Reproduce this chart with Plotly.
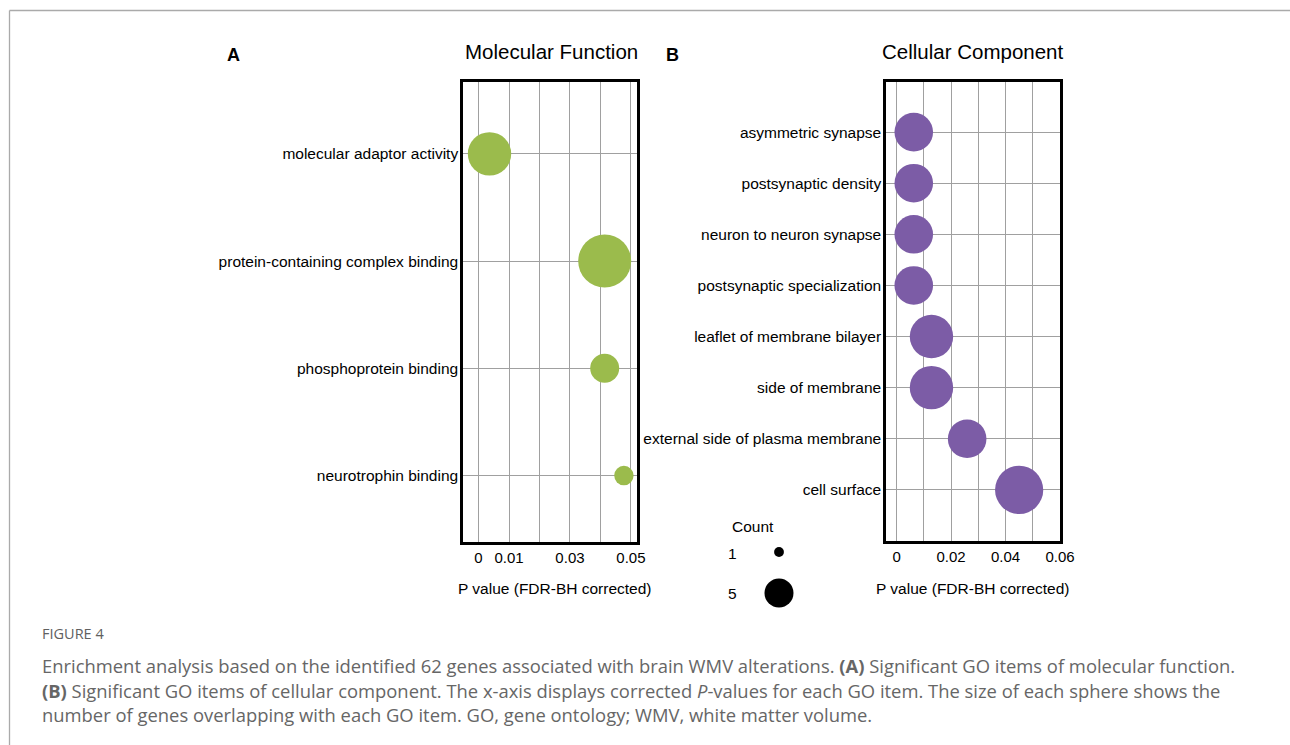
import plotly.graph_objects as go

# GO enrichment results
mf_terms = ["molecular adaptor activity", "protein-containing complex binding",
            "phosphoprotein binding", "neurotrophin binding"]
mf_p = [0.0036, 0.0414, 0.0414, 0.0477]
mf_count = [8, 10, 5, 3]

cc_terms = ["asymmetric synapse", "postsynaptic density", "neuron to neuron synapse",
            "postsynaptic specialization", "leaflet of membrane bilayer", "side of membrane",
            "external side of plasma membrane", "cell surface"]
cc_p = [0.0063, 0.0063, 0.0063, 0.0063, 0.0128, 0.0128, 0.0259, 0.0450]
cc_count = [7, 7, 7, 7, 8, 8, 7, 9]

legend_counts = [1, 5]

mf_ticks = [0, 0.01, 0.02, 0.03, 0.04, 0.05]
mf_ticktext = ["0", "0.01", "", "0.03", "", "0.05"]
cc_ticks = [0, 0.01, 0.02, 0.03, 0.04, 0.05, 0.06]
cc_ticktext = ["0", "", "0.02", "", "0.04", "", "0.06"]

W, H = 1290, 745
GREEN = "#9bbb4c"
PURPLE = "#7c5ca6"
FONT = "Liberation Sans, Arial, sans-serif"
CAP_FONT = "Open Sans, sans-serif"


def px_x(x):
    return x / W


def px_y(y):
    return 1 - y / H


def diam(c):
    # bubble diameter (px) grows linearly with gene count
    return 5 + 4.8 * c


fig = go.Figure()

fig.add_trace(go.Scatter(
    x=mf_p, y=mf_terms, mode="markers", xaxis="x", yaxis="y",
    marker=dict(size=[diam(c) for c in mf_count], color=GREEN, opacity=1,
                line=dict(width=0)),
    showlegend=False, hoverinfo="skip"))

fig.add_trace(go.Scatter(
    x=cc_p, y=cc_terms, mode="markers", xaxis="x2", yaxis="y2",
    marker=dict(size=[diam(c) for c in cc_count], color=PURPLE, opacity=1,
                line=dict(width=0)),
    showlegend=False, hoverinfo="skip"))

# size key
fig.add_trace(go.Scatter(
    x=[0, 0], y=[0, 1], mode="markers", xaxis="x3", yaxis="y3",
    marker=dict(size=[diam(c) for c in legend_counts], color="#000000", opacity=1,
                line=dict(width=0)),
    cliponaxis=False, showlegend=False, hoverinfo="skip"))

box = dict(showline=True, linecolor="black", linewidth=2.5, mirror=True,
           showgrid=True, gridcolor="#a0a0a0", gridwidth=1, zeroline=False,
           ticks="", automargin=False)

fig.update_layout(
    template="none",
    width=W, height=H, autosize=False,
    margin=dict(l=0, r=0, t=0, b=0, pad=0),
    paper_bgcolor="white", plot_bgcolor="white",
    font=dict(family=FONT, color="black"),
    xaxis=dict(domain=[px_x(463), px_x(637)], range=[-0.0051, 0.052],
               tickmode="array", tickvals=mf_ticks, ticktext=mf_ticktext,
               tickfont=dict(family=FONT, size=15, color="black"),
               anchor="y", **box),
    yaxis=dict(domain=[px_y(542), px_y(82)], range=[3.62, -0.67],
               type="category", categoryorder="array", categoryarray=mf_terms,
               tickfont=dict(family=FONT, size=15.5, color="black"),
               ticklabelstandoff=-1, anchor="x", **box),
    xaxis2=dict(domain=[px_x(886), px_x(1060)], range=[-0.0039, 0.06],
                tickmode="array", tickvals=cc_ticks, ticktext=cc_ticktext,
                tickfont=dict(family=FONT, size=15, color="black"),
                anchor="y2", **box),
    yaxis2=dict(domain=[px_y(541), px_y(82)], range=[8.0, -0.98],
                type="category", categoryorder="array", categoryarray=cc_terms,
                tickfont=dict(family=FONT, size=15.5, color="black"),
                ticklabelstandoff=-1, anchor="x2", **box),
    xaxis3=dict(domain=[px_x(769), px_x(789)], range=[-1, 1], visible=False,
                automargin=False, anchor="y3"),
    yaxis3=dict(domain=[px_y(613.5), px_y(531.5)], range=[1.5, -0.5],
                visible=False, automargin=False, anchor="x3"),
)

ann = []


def text(x, y, s, size=15.5, color="black", family=FONT, xanchor="center"):
    ann.append(dict(x=px_x(x), y=px_y(y), xref="paper", yref="paper", text=s,
                    showarrow=False, xanchor=xanchor, yanchor="middle",
                    font=dict(family=family, size=size, color=color)))


text(233, 55, "<b>A</b>", size=18)
text(672, 55, "<b>B</b>", size=18)
text(551, 52, "Molecular Function", size=20.5)
text(972, 52, "Cellular Component", size=20.5)
text(555, 588, "P value (FDR-BH corrected)")
text(973, 588, "P value (FDR-BH corrected)")
text(753, 526, "Count")
for cnt, yy in zip(legend_counts, [553, 593]):
    text(732, yy, str(cnt))

text(40, 633, "FIGURE 4", size=14.5, color="#606060", family=CAP_FONT, xanchor="left")
cap_lines = [
    "Enrichment analysis based on the identified 62 genes associated with brain WMV alterations. "
    "<b>(A)</b> Significant GO items of molecular function.",
    "<b>(B)</b> Significant GO items of cellular component. The x-axis displays corrected "
    "<i>P</i>-values for each GO item. The size of each sphere shows the",
    "number of genes overlapping with each GO item. GO, gene ontology; WMV, white matter volume.",
]
for line, yy in zip(cap_lines, [665, 690, 714]):
    text(40, yy, line, size=18.4, color="#666666", family=CAP_FONT, xanchor="left")

fig.update_layout(
    annotations=ann,
    shapes=[
        dict(type="line", xref="paper", yref="paper", x0=px_x(9.5), x1=1,
             y0=px_y(10.5), y1=px_y(10.5), line=dict(color="#aaaaaa", width=1.3)),
        dict(type="line", xref="paper", yref="paper", x0=px_x(9.5), x1=px_x(9.5),
             y0=px_y(10.5), y1=0, line=dict(color="#aaaaaa", width=1.3)),
    ],
)

fig.write_html("out.html")
